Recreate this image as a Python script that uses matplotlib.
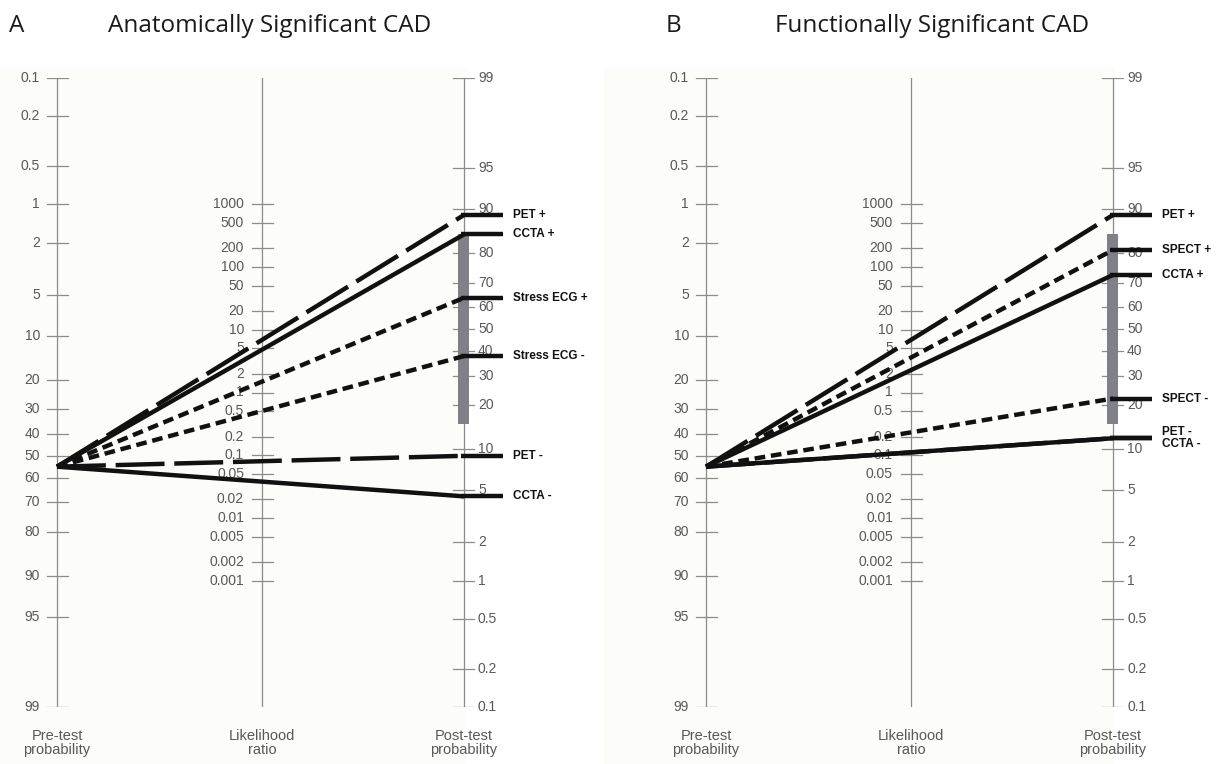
import numpy as np
import matplotlib
matplotlib.use("Agg")
import matplotlib.pyplot as plt
from matplotlib.patches import Rectangle

# tick values of the three nomogram scales
pre_ticks = [0.1, 0.2, 0.5, 1, 2, 5, 10, 20, 30, 40, 50, 60, 70, 80, 90, 95, 99]
lr_ticks = [1000, 500, 200, 100, 50, 20, 10, 5, 2, 1, 0.5, 0.2, 0.1,
            0.05, 0.02, 0.01, 0.005, 0.002, 0.001]
post_ticks = [99, 95, 90, 80, 70, 60, 50, 40, 30, 20, 10, 5, 2, 1, 0.5, 0.2, 0.1]

# intermediate post-test probability band (grey bar)
gray_zone = (15, 85)

# panel A: anatomically significant CAD
pre_a = 55
tests_a = ["PET +", "CCTA +", "Stress ECG +", "Stress ECG -", "PET -", "CCTA -"]
post_a = [89, 85, 64, 38, 9, 4.5]
style_a = ["long", "solid", "short", "short", "long", "solid"]

# panel B: functionally significant CAD
pre_b = 55
tests_b = ["PET +", "SPECT +", "CCTA +", "SPECT -", "PET -", "CCTA -"]
post_b = [89, 81, 73, 22, 12, 12]
style_b = ["long", "short", "solid", "short", "long", "solid"]
valign_b = ["center", "center", "center", "center", "bottom", "top"]

W, H = 1216, 764
X_PRE, X_LR, X_POST = 57, 262, 464
AXIS_C = "#8c8c8c"
TXT_C = "#585858"
DASHES = {"long": (11, 2.2), "short": (2.4, 1.3)}


def logit(p):
    p = np.asarray(p, dtype=float) / 100.0
    return np.log(p / (1 - p))


C = -logit(0.1) - logit(99)          # offset between pre and post scales
TOP, BOTTOM = -logit(0.1), -logit(99)


def u_pre(p):
    return -logit(p)


def u_post(p):
    return logit(p) + C


def u_lr(r):
    return (np.log(r) + C) / 2


def fmt(v):
    return f"{v:g}"


def draw_panel(ax, pre, tests, post, styles, valign=None):
    ax.set_xlim(0, 567)
    ax.set_ylim(BOTTOM, TOP)
    ax.axis("off")
    ax.add_patch(Rectangle((-45, BOTTOM - 1.2), 511, TOP - BOTTOM + 1.4,
                           facecolor="#fcfcf8", edgecolor="none", zorder=0,
                           clip_on=False))

    for x in (X_PRE, X_LR, X_POST):
        ax.plot([x, x], [BOTTOM, TOP], color=AXIS_C, lw=0.9, zorder=1)

    kw = dict(fontsize=10, color=TXT_C, family="Liberation Sans", va="center")
    for v in pre_ticks:
        ax.plot([X_PRE - 10, X_PRE + 11], [u_pre(v)] * 2, color=AXIS_C, lw=0.9, zorder=1)
        ax.text(X_PRE - 17, u_pre(v), fmt(v), ha="right", **kw)
    for v in lr_ticks:
        ax.plot([X_LR - 10, X_LR + 11], [u_lr(v)] * 2, color=AXIS_C, lw=0.9, zorder=1)
        ax.text(X_LR - 18, u_lr(v), fmt(v), ha="right", **kw)
    for v in post_ticks:
        ax.plot([X_POST - 11, X_POST + 10], [u_post(v)] * 2, color=AXIS_C, lw=0.9, zorder=1)
        ax.text(X_POST + 14, u_post(v), fmt(v), ha="left", **kw)

    lo, hi = u_post(gray_zone[0]), u_post(gray_zone[1])
    ax.add_patch(Rectangle((X_POST - 6, lo), 11, hi - lo, facecolor="#808088",
                           edgecolor="none", zorder=2))

    for i, (name, p, st) in enumerate(zip(tests, post, styles)):
        line, = ax.plot([X_PRE, X_POST], [u_pre(pre), u_post(p)], color="#111111",
                        lw=3.2, zorder=3, solid_capstyle="butt", dash_capstyle="butt")
        if st in DASHES:
            line.set_dashes(DASHES[st])
        ax.plot([X_POST - 3, X_POST + 39], [u_post(p)] * 2, color="#111111", lw=3.2,
                zorder=3, solid_capstyle="butt")
        va = valign[i] if valign else "center"
        ax.text(X_POST + 49, u_post(p), name, ha="left", va=va, fontsize=8.5,
                fontweight="bold", color="#111111", family="Liberation Sans")

    for x, s in ((X_PRE, "Pre-test\nprobability"), (X_LR, "Likelihood\nratio"),
                 (X_POST, "Post-test\nprobability")):
        ax.annotate(s, (x, BOTTOM), xytext=(0, -16), textcoords="offset points",
                    ha="center", va="top", fontsize=10.5, color=TXT_C,
                    family="Liberation Sans", linespacing=1.0)


fig = plt.figure(figsize=(W / 100, H / 100), dpi=100)
fig.patch.set_facecolor("white")
ax_h = (707 - 78) / H
ax_b = (H - 707) / H
ax_a = fig.add_axes([0, ax_b, 567 / W, ax_h])
ax_bb = fig.add_axes([649 / W, ax_b, 567 / W, ax_h])

draw_panel(ax_a, pre_a, tests_a, post_a, style_a)
draw_panel(ax_bb, pre_b, tests_b, post_b, style_b, valign_b)

tkw = dict(fontsize=17.5, color="#1a1a1a", family="Open Sans", va="center")
fig.text(9 / W, 1 - 26 / H, "A", ha="left", **tkw)
fig.text(270 / W, 1 - 26 / H, "Anatomically Significant CAD", ha="center", **tkw)
fig.text(666 / W, 1 - 26 / H, "B", ha="left", **tkw)
fig.text(932 / W, 1 - 26 / H, "Functionally Significant CAD", ha="center", **tkw)

fig.savefig("out.png", dpi=100)
